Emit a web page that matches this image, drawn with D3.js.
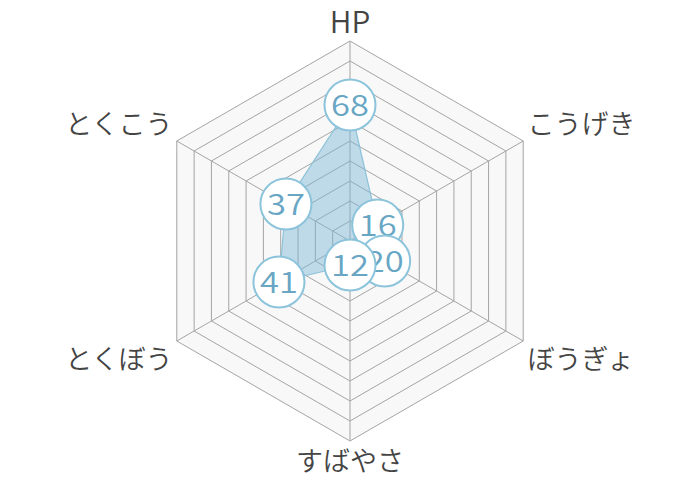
<!DOCTYPE html>
<html><head><meta charset="utf-8">
<script src="https://cdn.jsdelivr.net/npm/d3@7"></script>
<style>html,body{margin:0;padding:0;background:#fff;}</style>
</head><body>
<svg id="chart" width="700" height="480"></svg>
<script>
const categories = ["HP", "こうげき", "ぼうぎょ", "すばやさ", "とくぼう", "とくこう"];
const values = [68, 16, 20, 12, 41, 37];
const ticks = [10, 20, 30, 40, 50, 60, 70, 80, 90, 100];
const maxValue = 100;

const svg = d3.select("#chart");
const cx = 350, cy = 241, R = 200;
const r = d3.scaleLinear().domain([0, maxValue]).range([0, R]);
const ang = d3.scalePoint().domain(categories).range([0, 2 * Math.PI * (categories.length - 1) / categories.length]);
const pt = (c, v) => { const a = ang(c); return [cx + r(v) * Math.sin(a), cy - r(v) * Math.cos(a)]; };

const g = svg.append("g");
g.append("polygon")
  .attr("points", categories.map(c => pt(c, maxValue).join(",")).join(" "))
  .attr("fill", "#f8f8f8");
g.selectAll("polygon.ring").data(ticks).join("polygon")
  .attr("class", "ring")
  .attr("points", t => categories.map(c => pt(c, t).join(",")).join(" "))
  .attr("fill", "none").attr("stroke", "#a4a4a4").attr("stroke-width", 1);
g.selectAll("line.spoke").data(categories).join("line")
  .attr("class", "spoke")
  .attr("x1", cx).attr("y1", cy)
  .attr("x2", c => pt(c, maxValue)[0]).attr("y2", c => pt(c, maxValue)[1])
  .attr("stroke", "#a4a4a4").attr("stroke-width", 1);

g.append("polygon")
  .attr("points", categories.map((c, i) => pt(c, values[i]).join(",")).join(" "))
  .attr("fill", "rgba(120,180,210,0.45)")
  .attr("stroke", "#8cc2d9").attr("stroke-width", 1.2);

const pad = 5;
g.selectAll("text.lbl").data(categories).join("text")
  .attr("class", "lbl")
  .attr("x", c => cx + (R + pad) * Math.sin(ang(c)))
  .attr("y", c => {
    const a = ang(c), y = cy - (R + pad) * Math.cos(a);
    const cosA = Math.cos(a);
    if (cosA > 0.99) return y - 16;
    if (cosA < -0.99) return y + 13;
    return cosA > 0 ? y - 16.5 : y + 14;
  })
  .attr("text-anchor", c => { const s = Math.sin(ang(c)); return Math.abs(s) < 0.01 ? "middle" : (s > 0 ? "start" : "end"); })
  .attr("dominant-baseline", "central")
  .attr("font-family", "'Noto Sans CJK JP',sans-serif")
  .attr("font-weight", 350)
  .attr("font-size", c => c === "HP" ? 30 : 27)
  .attr("fill", "#444")
  .text(c => c);

const m = g.selectAll("g.mk").data(categories).join("g").attr("class", "mk")
  .attr("transform", (c, i) => `translate(${pt(c, values[i])})`);
m.append("circle").attr("r", 25.5).attr("fill", "#fff").attr("stroke", "#8cc4dc").attr("stroke-width", 2);
m.append("text")
  .attr("transform", "scale(1.15,1)")
  .attr("y", -1.5)
  .attr("text-anchor", "middle").attr("dominant-baseline", "central")
  .attr("font-family", "'Noto Sans CJK JP',sans-serif")
  .attr("font-weight", 350)
  .attr("font-size", 30).attr("fill", "#68a6c4")
  .text((c, i) => values[i]);
</script>
</body></html>
